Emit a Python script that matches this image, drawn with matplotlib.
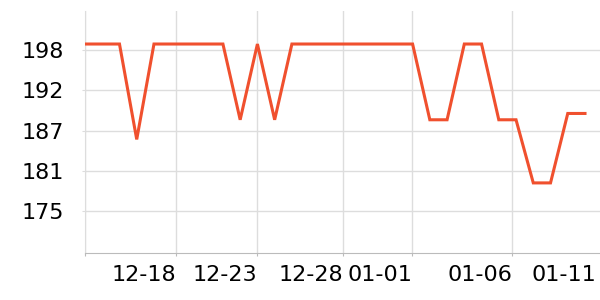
import numpy as np
import matplotlib
matplotlib.use('Agg')
import matplotlib.pyplot as plt

# daily values (30 points)
values = [199.1, 199.1, 199.1, 185.5, 199.1, 199.1, 199.1, 199.1, 199.1, 188.3,
          199.1, 188.3, 199.1, 199.1, 199.1, 199.1, 199.1, 199.1, 199.1, 199.1,
          188.3, 188.3, 199.1, 199.1, 188.3, 188.3, 179.3, 179.3, 189.2, 189.2]

# x tick positions (in point index units) and their labels
xtick_pos = [0, 5.26, 10.0, 14.98, 18.98, 24.78, 29.64]
xtick_labels = ['', '12-18', '12-23', '12-28', '01-01', '01-06', '01-11']

# y ticks and the rounded labels shown
ytick_pos = [175.25, 181.0, 186.75, 192.5, 198.25]
ytick_labels = ['175', '181', '187', '192', '198']

LINE_COLOR = '#f0502e'
GRID_COLOR = '#dddddd'

fig = plt.figure(figsize=(6, 3), dpi=100)
ax = fig.add_axes([85 / 600, 47.3 / 300, 515 / 600, 242 / 300])

x = np.arange(len(values))
ax.plot(x, values, color=LINE_COLOR, linewidth=2.2, solid_joinstyle='miter', zorder=3)

ax.set_xlim(0, 29.87)
ax.set_ylim(169.35, 203.85)

ax.set_xticks(xtick_pos)
ax.set_xticklabels(xtick_labels, ha='right', fontsize=16)
ax.set_yticks(ytick_pos)
ax.set_yticklabels(ytick_labels, fontsize=16)

ax.grid(True, color=GRID_COLOR, linewidth=1)
ax.set_axisbelow(True)

for side in ['top', 'right']:
    ax.spines[side].set_visible(False)
ax.spines['left'].set_color(GRID_COLOR)
ax.spines['bottom'].set_color('#bbbbbb')

ax.tick_params(axis='y', length=2, color=GRID_COLOR, pad=13)
ax.tick_params(axis='x', length=2.5, color='#bbbbbb', pad=6)

# last label sits past the plotted range: no tick mark or grid line for it
last = ax.xaxis.get_major_ticks()[-1]
last.tick1line.set_visible(False)
last.gridline.set_visible(False)

plt.savefig('out.png', dpi=100)
